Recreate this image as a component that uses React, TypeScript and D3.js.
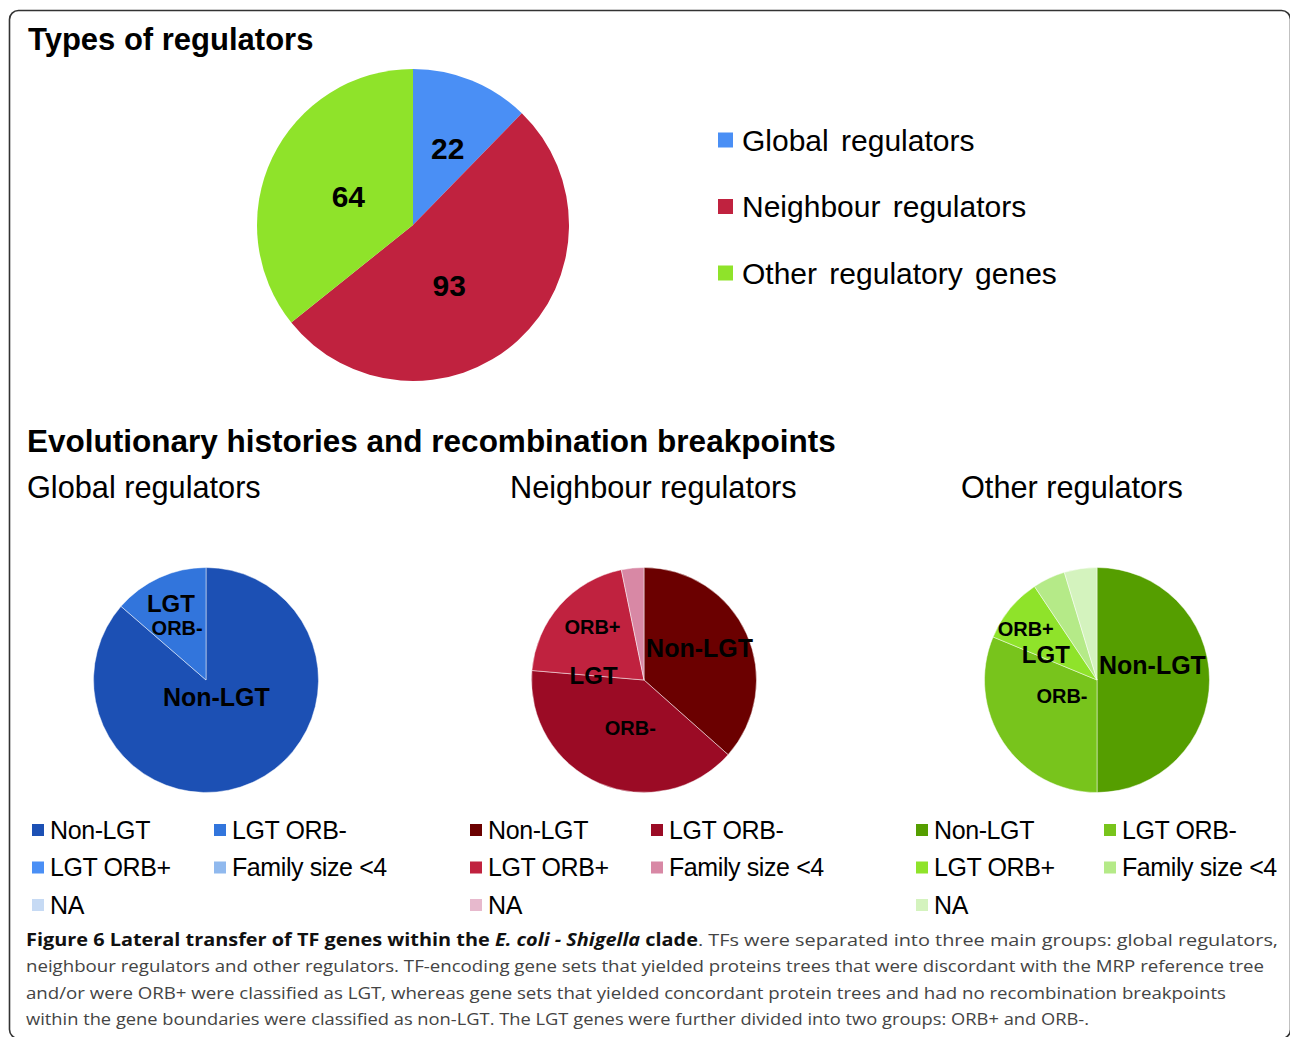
import * as d3 from 'd3'

// Types of regulators (top pie)
const typeLabels = ['Global regulators', 'Neighbour regulators', 'Other regulatory genes']
const typeCounts = [22, 93, 64]

// Evolutionary histories (three small pies)
const historyLabels = ['Non-LGT', 'LGT ORB-', 'LGT ORB+', 'Family size <4', 'NA']
const groupTitles = ['Global regulators', 'Neighbour regulators', 'Other regulators']
const globalCounts = [19, 3, 0, 0, 0]
const neighbourCounts = [34, 37, 19, 3, 0]
const otherCounts = [32, 20, 6, 3, 3]

const captionLines = [
  'neighbour regulators and other regulators. TF-encoding gene sets that yielded proteins trees that were discordant with the MRP reference tree',
  'and/or were ORB+ were classified as LGT, whereas gene sets that yielded concordant protein trees and had no recombination breakpoints',
  'within the gene boundaries were classified as non-LGT. The LGT genes were further divided into two groups: ORB+ and ORB-.',
]

// colours
const typeColors = ['#4a8ff5', '#c0223f', '#8fe32a']
const globalColors = ['#1c50b4', '#3275dc', '#4a8ff5', '#90b9ee', '#c6daf4']
const neighbourColors = ['#6b0000', '#9b0b25', '#c0223f', '#d888a5', '#e7b9cd']
const otherColors = ['#559e00', '#78c41c', '#8fe32a', '#b5ea88', '#d4f3be']

// label placement inside slices: t = fraction along slice angle, r = fraction of radius
interface SliceLabel { text: string; slice: number; t: number; r: number; size: number }

const typeSliceLabels: SliceLabel[] = [
  { text: '22', slice: 0, t: 0.55, r: 0.54, size: 30 },
  { text: '93', slice: 1, t: 0.56, r: 0.45, size: 30 },
  { text: '64', slice: 2, t: 0.49, r: 0.455, size: 30 },
]
const globalSliceLabels: SliceLabel[] = [
  { text: 'Non-LGT', slice: 0, t: 0.48, r: 0.18, size: 25 },
  { text: 'LGT', slice: 1, t: 0.5, r: 0.75, size: 24 },
  { text: 'ORB-', slice: 1, t: 0.41, r: 0.53, size: 20 },
]
const neighbourSliceLabels: SliceLabel[] = [
  { text: 'Non-LGT', slice: 0, t: 0.456, r: 0.57, size: 25 },
  { text: 'ORB-', slice: 1, t: 0.45, r: 0.44, size: 20 },
  { text: 'ORB+', slice: 2, t: 0.56, r: 0.66, size: 20 },
  { text: 'LGT', slice: 2, t: 0.0, r: 0.45, size: 24 },
]
const otherSliceLabels: SliceLabel[] = [
  { text: 'Non-LGT', slice: 0, t: 0.417, r: 0.51, size: 25 },
  { text: 'ORB-', slice: 1, t: 0.59, r: 0.34, size: 20 },
  { text: 'ORB+', slice: 2, t: 0.39, r: 0.78, size: 20 },
  { text: 'LGT', slice: 2, t: 0.13, r: 0.51, size: 24 },
]

const FONT = '"Liberation Sans", Arial, sans-serif'

function Pie({ counts, colors, cx, cy, radius, labels, separators }: {
  counts: number[]; colors: string[]; cx: number; cy: number; radius: number
  labels: SliceLabel[]; separators: boolean
}) {
  const arcs = d3.pie<number>().sort(null).value(d => d)(counts)
  const arc = d3.arc<d3.PieArcDatum<number>>().innerRadius(0).outerRadius(radius)

  return (
    <g transform={`translate(${cx},${cy})`}>
      {arcs.filter(a => a.data > 0).map((a, i) => (
        <path key={i} d={arc(a) || ''} fill={colors[a.index]}
          stroke={separators ? '#ffffff' : 'none'} strokeOpacity={0.6} strokeWidth={0.8} />
      ))}
      {labels.map((l, i) => {
        const a = arcs[l.slice]
        const ang = a.startAngle + l.t * (a.endAngle - a.startAngle)
        const x = Math.sin(ang) * l.r * radius
        const y = -Math.cos(ang) * l.r * radius
        return (
          <text key={i} x={x} y={y + l.size * 0.36} textAnchor="middle"
            fontFamily={FONT} fontWeight="bold" fontSize={l.size} fill="#000">
            {l.text}
          </text>
        )
      })}
    </g>
  )
}

function HistoryLegend({ x, x2, colors }: { x: number; x2: number; colors: string[] }) {
  const rowY = d3.scaleLinear().domain([0, 1]).range([830, 867.5])
  return (
    <g>
      {historyLabels.map((lab, i) => {
        const col = i % 2
        const row = Math.floor(i / 2)
        const sx = col === 0 ? x : x2
        const cy = rowY(row)
        return (
          <g key={lab}>
            <rect x={sx} y={cy - 6} width={12} height={12} fill={colors[i]} />
            <text x={sx + 18} y={cy + 8.8} fontFamily={FONT} fontSize={25} fill="#000"
              letterSpacing={-0.4}>
              {lab}
            </text>
          </g>
        )
      })}
    </g>
  )
}

export default function App() {
  const width = 1290
  const height = 1037

  const groups = [
    { counts: globalCounts, colors: globalColors, labels: globalSliceLabels, cx: 206, titleX: 27, legX: 32, legX2: 214 },
    { counts: neighbourCounts, colors: neighbourColors, labels: neighbourSliceLabels, cx: 644, titleX: 510, legX: 470, legX2: 651 },
    { counts: otherCounts, colors: otherColors, labels: otherSliceLabels, cx: 1097, titleX: 961, legX: 916, legX2: 1104 },
  ]

  const typeLegendY = d3.scaleLinear().domain([0, 2]).range([140, 273])

  return (
    <svg width={width} height={height} style={{ position: 'absolute', left: 0, top: 0, background: '#fff' }}>
      <rect x={0} y={0} width={width} height={height} fill="#fff" />
      <rect x={9.5} y={10.5} width={1281} height={1028} rx={9} fill="none" stroke="#333" strokeWidth={1.6} />

      <text x={28} y={50} fontFamily={FONT} fontWeight="bold" fontSize={31} fill="#000">Types of regulators</text>

      <Pie counts={typeCounts} colors={typeColors} cx={413} cy={225} radius={156} labels={typeSliceLabels} separators={false} />

      {typeLabels.map((lab, i) => (
        <g key={lab}>
          <rect x={718} y={typeLegendY(i) - 7.5} width={15} height={15} fill={typeColors[i]} />
          <text x={742} y={typeLegendY(i) + 10.5} fontFamily={FONT} fontSize={30} fill="#000" wordSpacing={4}>{lab}</text>
        </g>
      ))}

      <text x={27} y={452} fontFamily={FONT} fontWeight="bold" fontSize={31.5} fill="#000">
        Evolutionary histories and recombination breakpoints
      </text>

      {groups.map((g, i) => (
        <g key={i}>
          <text x={g.titleX} y={498} fontFamily={FONT} fontSize={30.7} fill="#000">{groupTitles[i]}</text>
          <Pie counts={g.counts} colors={g.colors} cx={g.cx} cy={680} radius={112.5} labels={g.labels} separators={true} />
          <HistoryLegend x={g.legX} x2={g.legX2} colors={g.colors} />
        </g>
      ))}

      <g fontFamily='"Open Sans", "Noto Sans", sans-serif' fontSize={17}>
        <text x={26} y={946} textLength={1252} lengthAdjust="spacingAndGlyphs" fill="#444">
          <tspan fontWeight="bold" fill="#111">Figure 6 Lateral transfer of TF genes within the </tspan>
          <tspan fontWeight="bold" fontStyle="italic" fill="#111">E. coli - Shigella</tspan>
          <tspan fontWeight="bold" fill="#111"> clade</tspan>
          <tspan>. TFs were separated into three main groups: global regulators,</tspan>
        </text>
        {captionLines.map((line, i) => (
          <text key={i} x={26} y={972 + i * 26.5} fill="#444"
            textLength={[1238, 1200, 1063][i]} lengthAdjust="spacingAndGlyphs">
            {line}
          </text>
        ))}
      </g>
    </svg>
  )
}
